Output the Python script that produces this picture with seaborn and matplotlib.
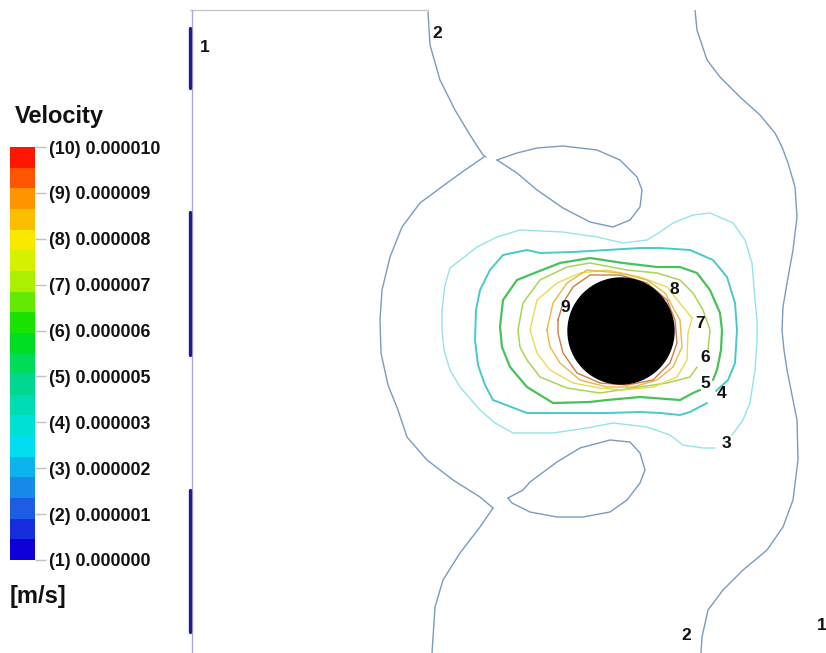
import numpy as np
import matplotlib
matplotlib.use("Agg")
import matplotlib.pyplot as plt
from matplotlib.colors import LinearSegmentedColormap, Normalize
from matplotlib.colorbar import ColorbarBase
from matplotlib.patches import Circle
import seaborn as sns

# ---- legend levels -------------------------------------------------------
level_index = [1, 2, 3, 4, 5, 6, 7, 8, 9, 10]
level_value = ["0.000000", "0.000001", "0.000002", "0.000003", "0.000005",
               "0.000006", "0.000007", "0.000008", "0.000009", "0.000010"]

# ---- iso-velocity lines (domain grid units, y measured downward) ----------
# level 1: along the left wall
c1_wall_a = [(189.5, 28), (189.5, 88)]
c1_wall_b = [(189.5, 212), (189.5, 355)]
c1_wall_c = [(189.5, 490), (189.5, 632)]

# level 2
c2_top = [(428, 12), (430, 45), (440, 80), (455, 110), (470, 135), (483, 155), (486, 157)]
c2_left = [(484, 157), (465, 170), (447, 183), (420, 203), (402, 227), (390, 257),
           (382, 290), (380, 320), (381, 353), (388, 385), (398, 410), (407, 437),
           (427, 460), (453, 480), (480, 497), (493, 508)]
c2_bottom = [(493, 508), (480, 527), (460, 553), (443, 580), (435, 607), (432, 653)]
c2_upper_lobe = [(497, 160), (517, 153), (537, 148), (563, 146), (597, 150), (620, 160),
                 (637, 177), (642, 190), (640, 207), (630, 220), (613, 227), (590, 222),
                 (563, 208), (537, 190), (517, 173), (497, 160)]
c2_lower_lobe = [(508, 498), (523, 490), (530, 482), (557, 462), (580, 448), (610, 440),
                 (630, 442), (640, 453), (645, 470), (640, 483), (627, 500), (610, 512),
                 (583, 517), (557, 517), (530, 512), (512, 503), (508, 498)]
c2_right = [(695, 10), (697, 30), (707, 60), (720, 77), (740, 97), (760, 115), (775, 133),
            (782, 147), (788, 163), (795, 187), (797, 217), (793, 250), (787, 283),
            (783, 307), (782, 330), (784, 350), (787, 370), (797, 420), (798, 460),
            (793, 500), (783, 527), (767, 550), (743, 570), (723, 590), (708, 610),
            (702, 637), (701, 653)]

# level 3
c3 = [(732, 435), (743, 420), (750, 403), (755, 370), (757, 340), (757, 320), (755, 300),
      (752, 263), (745, 240), (733, 223), (710, 213), (693, 215), (673, 223), (660, 232),
      (647, 240), (623, 243), (597, 237), (563, 232), (520, 230), (497, 237), (477, 247),
      (463, 258), (450, 268), (445, 285), (442, 310), (442, 330), (444, 350), (450, 370),
      (460, 387), (480, 410), (495, 423), (513, 433), (553, 433), (587, 428), (613, 423),
      (647, 427), (670, 435), (683, 445), (703, 448), (715, 448)]

# level 4
c4 = [(716, 391), (728, 380), (735, 363), (737, 330), (735, 303), (727, 277), (713, 260),
      (690, 250), (660, 248), (640, 248), (607, 250), (573, 252), (540, 253), (527, 250),
      (503, 255), (490, 270), (480, 290), (476, 310), (475, 340), (478, 365), (485, 385),
      (493, 400), (527, 413), (573, 413), (607, 413), (640, 412), (660, 413), (680, 415),
      (690, 412), (707, 403)]

# level 5
c5 = [(713, 380), (717, 370), (721, 350), (722, 330), (720, 313), (710, 290), (697, 273),
      (680, 267), (657, 267), (623, 263), (590, 258), (560, 263), (537, 272), (517, 280),
      (503, 300), (500, 327), (502, 347), (510, 367), (527, 387), (553, 403), (590, 402),
      (607, 400), (640, 397), (680, 400), (693, 393), (700, 390)]

# level 6
c6 = [(708, 350), (710, 330), (703, 310), (693, 293), (680, 280), (657, 273), (627, 270),
      (590, 263), (567, 267), (540, 280), (523, 303), (518, 330), (520, 347), (527, 360),
      (540, 377), (567, 388), (600, 393), (633, 388), (667, 383), (690, 377), (697, 367)]

# level 7
c7 = [(692, 318), (688, 333), (687, 360), (677, 377), (653, 387), (623, 390), (600, 388),
      (573, 383), (550, 370), (537, 353), (530, 330), (537, 300), (557, 283), (580, 273),
      (607, 270), (640, 277), (667, 287), (683, 307), (692, 318)]

# level 8
c8 = [(547, 330), (553, 303), (567, 283), (587, 270), (620, 273), (647, 280), (665, 293),
      (680, 320), (682, 347), (673, 367), (657, 380), (633, 387), (607, 387), (580, 380),
      (560, 363), (550, 347), (547, 330)]

# level 9
c9 = [(558, 320), (563, 303), (573, 287), (590, 275), (620, 275), (647, 283), (667, 300),
      (675, 320), (677, 343), (670, 363), (653, 380), (627, 385), (600, 383), (577, 373),
      (563, 353), (558, 333), (558, 320)]

cylinder_center = (621, 331)
cylinder_radius = 53

# on-line level numbers
label_text = ["1", "2", "9", "8", "7", "6", "5", "4", "3", "2", "1"]
label_x = [205, 437, 565, 674, 700, 705, 705, 722, 726, 686, 822]
label_y = [48, 33, 307, 289, 323, 358, 383, 393, 444, 636, 625]

# ---- styling ---------------------------------------------------------------
sns.set_theme(style="white")
plt.rcParams["font.family"] = ["Liberation Sans", "DejaVu Sans"]

line_colors = {
    1: "#1e1e8c", 2: "#7396b8", 3: "#8fe2e8", 4: "#3fc6c6", 5: "#3cbf50",
    6: "#a6d24e", 7: "#e8d84a", 8: "#e8b43a", 9: "#c8783e",
}

cmap = LinearSegmentedColormap.from_list(
    "velocity",
    [(0.0, "#1000d8"), (0.12, "#1f6ae6"), (0.27, "#00e4f0"), (0.42, "#00d890"),
     (0.56, "#00e000"), (0.68, "#a8f000"), (0.78, "#f8f000"), (0.89, "#ff9a00"),
     (1.0, "#ff1500")],
    N=20,
)

fig = plt.figure(figsize=(8.26, 6.53), dpi=100)
W, H = 826, 653

ax = fig.add_axes([190 / W, 0, 636 / W, 643 / H])
ax.set_xlim(190, 826)
ax.set_ylim(653, 10)
ax.set_axis_off()


def draw(path, level, lw=1.2, alpha=0.95, clip=True):
    pts = np.asarray(path, dtype=float)
    sns.lineplot(x=pts[:, 0], y=pts[:, 1], sort=False, estimator=None,
                 color=line_colors[level], linewidth=lw, alpha=alpha,
                 legend=False, ax=ax, clip_on=clip)


# domain boundary
sns.lineplot(x=[190, 428], y=[10, 10], sort=False, estimator=None,
             color="#c8c8c8", linewidth=1.0, ax=ax, clip_on=False)
sns.lineplot(x=[191.5, 191.5], y=[10, 653], sort=False, estimator=None,
             color="#b4a4dc", linewidth=1.0, ax=ax)

for seg in (c1_wall_a, c1_wall_b, c1_wall_c):
    draw(seg, 1, lw=2.4, alpha=1.0, clip=False)

for seg in (c2_top, c2_left, c2_bottom, c2_upper_lobe, c2_lower_lobe, c2_right):
    draw(seg, 2, lw=1.0)

draw(c3, 3, lw=1.0)
draw(c4, 4, lw=1.4)
draw(c5, 5, lw=1.6)
draw(c6, 6, lw=1.1)
draw(c7, 7, lw=1.0)
draw(c8, 8, lw=1.0)
draw(c9, 9, lw=1.0)

ax.add_patch(Circle(cylinder_center, cylinder_radius, color="black", zorder=5))

for t, x, y in zip(label_text, label_x, label_y):
    ax.text(x, y, t, fontsize=12.5, fontweight="bold", color="#111111",
            ha="center", va="center", zorder=6, clip_on=False)

# ---- colour legend ------------------------------------------------------------
cax = fig.add_axes([10 / W, (H - 560) / H, 25 / W, 413 / H])
cb = ColorbarBase(cax, cmap=cmap, norm=Normalize(1, 10), ticks=level_index)
cb.outline.set_visible(False)
cb.set_ticklabels([f"({i}) {v}" for i, v in zip(level_index, level_value)])
cax.tick_params(axis="y", length=8, width=1.0, color="#c0c0c0", pad=2,
                labelsize=12.8, labelcolor="#111111")
for lab in cax.get_yticklabels():
    lab.set_fontweight("bold")

fig.text(15 / W, 1 - 117 / H, "Velocity", fontsize=17, fontweight="bold",
         ha="left", va="center", color="#111111")
fig.text(10 / W, 1 - 597 / H, "[m/s]", fontsize=17, fontweight="bold",
         ha="left", va="center", color="#111111")

fig.savefig("out.png", dpi=100, facecolor="white")
